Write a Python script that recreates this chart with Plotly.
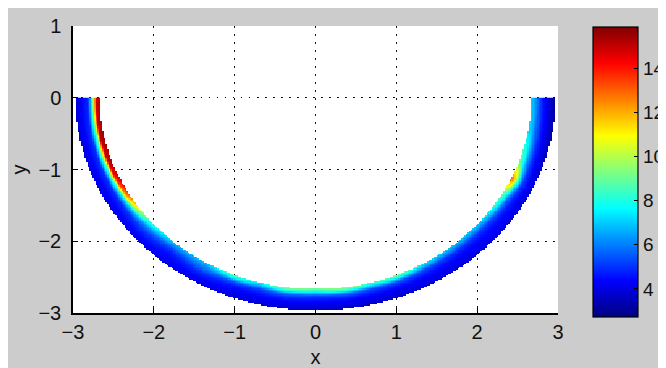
import numpy as np
import plotly.graph_objects as go

# ---- data ----
# angle along the half ring (degrees, 180 = left end, 270 = bottom, 360 = right end)
angles_deg = [180, 190, 200, 205, 210, 215, 220, 230, 240, 248, 255, 262, 270, 278,
              285, 292, 300, 310, 320, 330, 335, 340, 350, 360]
# position across the ring width: 0 = inner edge, 1 = outer edge
radial_frac = [0.0, 0.15, 0.3, 0.5, 0.75, 1.0]
# field values (inner -> outer) at each angle
field_values = [
    [15.0, 14.8, 8.0, 4.8, 4.3, 3.8],   # 180
    [15.5, 15.2, 8.8, 5.0, 4.4, 3.9],   # 190
    [15.2, 15.0, 8.8, 5.0, 4.4, 4.0],   # 200
    [14.8, 14.0, 8.3, 5.0, 4.4, 4.1],   # 205
    [13.5, 12.0, 7.5, 5.0, 4.4, 4.2],   # 210
    [11.0, 9.5, 6.8, 5.0, 4.5, 4.2],    # 215
    [8.5, 7.5, 6.2, 5.2, 4.5, 4.3],     # 220
    [6.8, 6.0, 5.2, 4.6, 4.4, 4.1],     # 230
    [7.0, 6.3, 5.8, 5.0, 4.4, 4.1],     # 240
    [9.0, 7.5, 5.5, 4.6, 4.3, 4.0],     # 248
    [7.5, 6.5, 5.2, 4.6, 4.2, 3.9],     # 255
    [10.0, 8.0, 5.8, 4.8, 4.2, 3.8],    # 262
    [9.0, 7.3, 5.4, 4.6, 4.1, 3.7],     # 270
    [10.2, 8.2, 5.8, 4.7, 4.1, 3.7],    # 278
    [8.5, 7.0, 5.3, 4.6, 4.1, 3.7],     # 285
    [9.5, 7.6, 5.5, 4.6, 4.1, 3.8],     # 292
    [7.5, 6.5, 5.2, 4.6, 4.2, 3.9],     # 300
    [7.0, 6.0, 5.0, 4.5, 4.2, 3.9],     # 310
    [7.2, 6.3, 5.2, 4.6, 4.3, 4.0],     # 320
    [9.0, 8.0, 6.0, 4.8, 4.3, 3.9],     # 330
    [13.0, 12.0, 8.5, 5.3, 4.4, 3.9],   # 335
    [9.5, 8.5, 6.5, 5.0, 4.2, 3.7],     # 340
    [7.3, 6.8, 5.8, 4.8, 4.0, 3.3],     # 350
    [7.0, 6.5, 5.5, 4.6, 3.8, 3.1],     # 360
]
r_inner = 2.67
r_outer = 2.97
c_range = [2.75, 15.9]

x_ticks = [-3, -2, -1, 0, 1, 2, 3]
y_ticks = [-3, -2, -1, 0, 1]
cbar_ticks = [4, 6, 8, 10, 12, 14]

# ---- sample the ring table onto an image grid (shading like the original) ----
step = 0.02
xs = np.arange(-3 + step / 2, 3, step)
ys = np.arange(-3 + step / 2, 0, step)
X, Y = np.meshgrid(xs, ys)
R = np.hypot(X, Y)
PHI = np.degrees(np.arctan2(Y, X)) % 360
PHI = np.where(PHI < 90, PHI + 360, PHI)
F = (R - r_inner) / (r_outer - r_inner)

A = np.array(angles_deg, float)
Fr = np.array(radial_frac, float)
V = np.array(field_values, float)

ia = np.clip(np.searchsorted(A, PHI, side="right") - 1, 0, len(A) - 2)
ta = np.clip((PHI - A[ia]) / (A[ia + 1] - A[ia]), 0, 1)
Fc = np.clip(F, 0, 1)
ir = np.clip(np.searchsorted(Fr, Fc, side="right") - 1, 0, len(Fr) - 2)
tr = np.clip((Fc - Fr[ir]) / (Fr[ir + 1] - Fr[ir]), 0, 1)
Z = ((1 - ta) * (1 - tr) * V[ia, ir] + ta * (1 - tr) * V[ia + 1, ir]
     + (1 - ta) * tr * V[ia, ir + 1] + ta * tr * V[ia + 1, ir + 1])
Z = np.where((F >= 0) & (F <= 1), Z, np.nan)

jet = [[0.0, "rgb(0,0,128)"], [0.125, "rgb(0,0,255)"], [0.375, "rgb(0,255,255)"],
       [0.625, "rgb(255,255,0)"], [0.875, "rgb(255,0,0)"], [1.0, "rgb(128,0,0)"]]

FONT = "Liberation Sans Narrow, Arial Narrow, Liberation Sans, Arial, sans-serif"

L, Rm, T, B = 65, 108, 18, 55
FW, FH = 658, 360
PW = FW - L - Rm

fig = go.Figure(go.Heatmap(
    x=xs, y=ys, z=Z, colorscale=jet, zmin=c_range[0], zmax=c_range[1],
    zsmooth=False, hoverinfo="skip",
    colorbar=dict(
        x=(585 - L) / PW, xanchor="left", xpad=0,
        y=0.493, yanchor="middle", ypad=0,
        len=290, lenmode="pixels", thickness=45,
        outlinecolor="black", outlinewidth=1.2,
        tickvals=cbar_ticks, ticks="inside", ticklen=4, tickcolor="black",
        tickfont=dict(family=FONT, size=19, color="#111"),
    ),
))

grid = dict(showgrid=True, gridcolor="#111", gridwidth=1.3, griddash="1.5px,6.5px",
            zeroline=False, showline=True, linecolor="black", linewidth=1.5,
            ticks="inside", ticklen=5, tickcolor="black", automargin=False,
            tickfont=dict(family=FONT, size=20, color="#111"))

fig.update_xaxes(range=[-3, 3], tickvals=x_ticks, **grid,
                 title=dict(text="x", font=dict(family=FONT, size=20, color="#111"), standoff=18))
fig.update_yaxes(range=[-3, 1], tickvals=y_ticks, **grid, ticklabelstandoff=6,
                 title=dict(text="y", font=dict(family=FONT, size=20, color="#111"), standoff=7))

fig.update_layout(
    width=FW, height=FH,
    margin=dict(l=L, r=Rm, t=T, b=B, autoexpand=False),
    paper_bgcolor="#cccccc", plot_bgcolor="white",
    showlegend=False,
)

fig.write_html("out.html")
